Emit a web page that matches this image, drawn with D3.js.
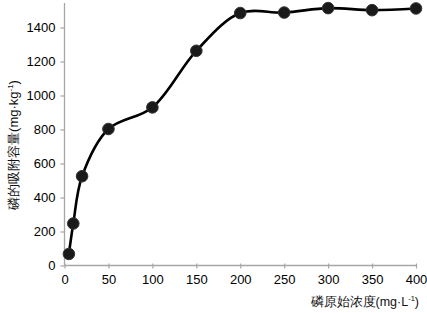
<!DOCTYPE html>
<html><head><meta charset="utf-8">
<script src="https://cdn.jsdelivr.net/npm/d3@7"></script>
<style>body{margin:0;background:#fff}text{font-family:Arial,"Liberation Sans",sans-serif}</style>
</head><body><svg id="c" width="427" height="313"></svg>
<script>
const concentration = [5, 10, 20, 50, 100, 150, 200, 250, 300, 350, 400];
const adsorption = [68, 247, 525, 803, 930, 1263, 1485, 1488, 1514, 1502, 1512];
const xTicks = [0, 50, 100, 150, 200, 250, 300, 350, 400];
const yTicks = [0, 200, 400, 600, 800, 1000, 1200, 1400];

const svg = d3.select("#c");
const x = d3.scaleLinear().domain([0, 400]).range([64.5, 416]);
const y = d3.scaleLinear().domain([0, 1400]).range([265.5, 27.5]);
const axisColor = "#a6a6a6";

// y axis
const ya = svg.append("g").attr("transform", `translate(${x(0)},0)`)
  .call(d3.axisLeft(y).tickValues(yTicks).tickSize(4).tickPadding(5).tickFormat(d3.format("d")));
ya.select(".domain").remove();
svg.append("line").attr("x1", x(0)).attr("x2", x(0)).attr("y1", 3).attr("y2", y(0))
  .attr("stroke", axisColor).attr("stroke-width", 1.3);
ya.selectAll(".tick line").attr("stroke", axisColor).attr("stroke-width", 1.2);
ya.selectAll(".tick text").attr("font-size", 13).attr("fill", "#000");

// x axis
const xa = svg.append("g").attr("transform", `translate(0,${y(0)})`)
  .call(d3.axisBottom(x).tickValues(xTicks).tickSize(3).tickPadding(6).tickFormat(d3.format("d")));
xa.select(".domain").remove();
svg.append("line").attr("x1", x(0)).attr("x2", x(400)).attr("y1", y(0)).attr("y2", y(0))
  .attr("stroke", axisColor).attr("stroke-width", 1.3);
xa.selectAll(".tick line").attr("stroke", axisColor).attr("stroke-width", 1.2).attr("y1", -2);
xa.selectAll(".tick text").attr("font-size", 13).attr("fill", "#000");

// line
const pts = concentration.map((c, i) => [c, adsorption[i]]);
svg.append("path").datum(pts)
  .attr("d", d3.line().x(d => x(d[0])).y(d => y(d[1])).curve(d3.curveCatmullRom.alpha(0.5)))
  .attr("fill", "none").attr("stroke", "#000").attr("stroke-width", 2.6);

svg.selectAll("circle.pt").data(pts).enter().append("circle")
  .attr("cx", d => x(d[0])).attr("cy", d => y(d[1])).attr("r", 5.8)
  .attr("fill", "#1a1a1a").attr("stroke", "#333").attr("stroke-width", 1);

// y label
const yl = svg.append("text").attr("transform", "translate(18,145) rotate(-90)")
  .attr("text-anchor", "middle").attr("font-size", 13).attr("fill", "#111");
yl.append("tspan").text("磷的吸附容量(mg·kg");
yl.append("tspan").attr("font-size", 8).attr("dy", -5).text("-1");
yl.append("tspan").attr("dy", 5).text(")");

// x label
const xl = svg.append("text").attr("x", 419).attr("y", 306)
  .attr("text-anchor", "end").attr("font-size", 12.5).attr("fill", "#111");
xl.append("tspan").text("磷原始浓度(mg·L");
xl.append("tspan").attr("font-size", 7.5).attr("dy", -5).text("-1");
xl.append("tspan").attr("dy", 5).text(")");
</script></body></html>
